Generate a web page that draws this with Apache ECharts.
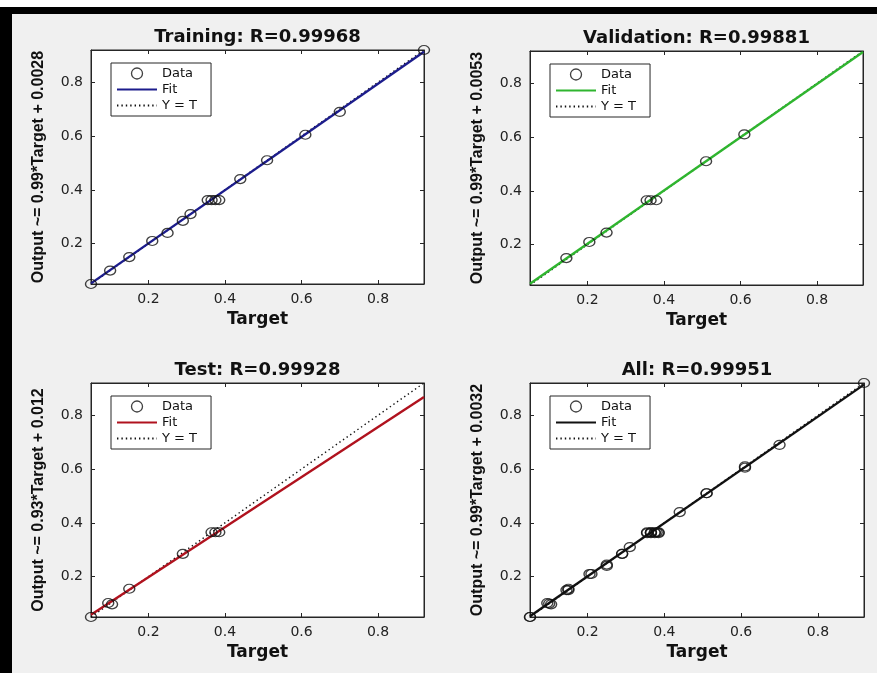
<!DOCTYPE html>
<html>
<head>
<meta charset="utf-8">
<script src="https://cdn.jsdelivr.net/npm/echarts@6/dist/echarts.min.js"></script>
<style>
html,body{margin:0;padding:0;background:#fff;}
#chart{width:877px;height:673px;}
</style>
</head>
<body>
<div id="chart"></div>
<script>
// ---- data ----
const axisMin = 0.05;
const axisMax = 0.92;
const tickValues = [0.2, 0.4, 0.6, 0.8];
const tickLabels = ['0.2', '0.4', '0.6', '0.8'];

const panelTitles = ['Training: R=0.99968', 'Validation: R=0.99881', 'Test: R=0.99928', 'All: R=0.99951'];
const yAxisNames = ['Output ~= 0.99*Target + 0.0028', 'Output ~= 0.99*Target + 0.0053',
                    'Output ~= 0.93*Target + 0.012', 'Output ~= 0.99*Target + 0.0032'];
const legendNames = ['Data', 'Fit', 'Y = T'];

const trainTarget = [0.05, 0.10, 0.15, 0.21, 0.25, 0.29, 0.31, 0.355, 0.365, 0.375, 0.385, 0.44, 0.51, 0.61, 0.70, 0.92];
const trainOutput = [0.05, 0.10, 0.15, 0.21, 0.24, 0.285, 0.31, 0.362, 0.362, 0.362, 0.362, 0.44, 0.51, 0.605, 0.69, 0.92];

const valTarget = [0.145, 0.205, 0.25, 0.355, 0.365, 0.38, 0.51, 0.61];
const valOutput = [0.15, 0.21, 0.245, 0.365, 0.365, 0.365, 0.51, 0.61];

const testTarget = [0.05, 0.095, 0.105, 0.15, 0.29, 0.365, 0.375, 0.385];
const testOutput = [0.05, 0.102, 0.097, 0.155, 0.285, 0.365, 0.365, 0.365];

const allTarget = trainTarget.concat(valTarget, testTarget);
const allOutput = trainOutput.concat(valOutput, testOutput);

// fit lines: output values at target = axisMin and axisMax
const fitEndsX = [0.05, 0.92];
const trainFitY = [0.0523, 0.9136];
const valFitY = [0.0548, 0.9161];
const testFitY = [0.0585, 0.8676];
const allFitY = [0.0527, 0.9140];
const identityY = [0.05, 0.92];

const fitColors = ['#1c1c8c', '#2fb52f', '#b0121e', '#111111'];

// ---- layout ----
const panels = [
  {left: 91, top: 50, width: 333, height: 234, tx: trainTarget, ty: trainOutput, fy: trainFitY},
  {left: 530, top: 51, width: 333, height: 234, tx: valTarget, ty: valOutput, fy: valFitY},
  {left: 91, top: 383, width: 333, height: 234, tx: testTarget, ty: testOutput, fy: testFitY},
  {left: 530, top: 383, width: 334, height: 234, tx: allTarget, ty: allOutput, fy: allFitY}
];

const axisColor = '#262626';
const grid = [], xAxis = [], yAxis = [], series = [], title = [], legend = [];

panels.forEach((p, i) => {
  const sfx = ' '.repeat(i);
  grid.push({left: p.left, top: p.top, width: p.width, height: p.height,
    show: true, backgroundColor: '#ffffff', borderColor: axisColor, borderWidth: 1});
  const tickStyle = {inside: true, length: 4, customValues: tickValues, lineStyle: {color: axisColor}};
  const labelFmt = v => { const k = tickValues.findIndex(t => Math.abs(t - v) < 1e-9); return k >= 0 ? tickLabels[k] : ''; };
  xAxis.push({type: 'value', gridIndex: i, min: axisMin, max: axisMax, position: 'bottom',
    axisLine: {show: true, onZero: false, lineStyle: {color: axisColor}},
    axisTick: tickStyle,
    axisLabel: {customValues: tickValues, formatter: labelFmt, margin: 8, fontSize: 14, fontFamily: 'DejaVu Sans', color: '#222'},
    splitLine: {show: false},
    name: 'Target', nameLocation: 'middle', nameGap: 27,
    nameTextStyle: {fontWeight: 'bold', fontSize: 17, fontFamily: 'DejaVu Sans', color: '#111'}});
  xAxis.push({type: 'value', gridIndex: i, min: axisMin, max: axisMax, position: 'top',
    axisLine: {show: true, onZero: false, lineStyle: {color: axisColor}},
    axisTick: tickStyle, axisLabel: {show: false}, splitLine: {show: false}});
  yAxis.push({type: 'value', gridIndex: i, min: axisMin, max: axisMax, position: 'left',
    axisLine: {show: true, onZero: false, lineStyle: {color: axisColor}},
    axisTick: tickStyle,
    axisLabel: {customValues: tickValues, formatter: labelFmt, margin: 8, fontSize: 14, fontFamily: 'DejaVu Sans', color: '#222'},
    splitLine: {show: false},
    name: yAxisNames[i], nameLocation: 'middle', nameGap: 44,
    nameTextStyle: {fontWeight: 'bold', fontSize: 16, fontFamily: 'Liberation Sans', color: '#111'}});
  yAxis.push({type: 'value', gridIndex: i, min: axisMin, max: axisMax, position: 'right',
    axisLine: {show: true, onZero: false, lineStyle: {color: axisColor}},
    axisTick: tickStyle, axisLabel: {show: false}, splitLine: {show: false}});

  const xi = 2 * i, yi = 2 * i;
  series.push({type: 'line', name: legendNames[2] + sfx, xAxisIndex: xi, yAxisIndex: yi,
    data: fitEndsX.map((x, k) => [x, identityY[k]]), symbol: 'none', silent: true, z: 3,
    lineStyle: {color: '#111', width: 1.4, type: [1.4, 3]}, itemStyle: {color: '#111'}});
  series.push({type: 'line', name: legendNames[1] + sfx, xAxisIndex: xi, yAxisIndex: yi,
    data: fitEndsX.map((x, k) => [x, p.fy[k]]), symbol: 'none', silent: true, z: 4,
    lineStyle: {color: fitColors[i], width: 2.4}, itemStyle: {color: fitColors[i]}});
  series.push({type: 'scatter', name: legendNames[0] + sfx, xAxisIndex: xi, yAxisIndex: yi,
    data: p.tx.map((x, k) => [x, p.ty[k]]), symbol: 'circle', symbolSize: [11, 9], z: 5, silent: true,
    itemStyle: {color: 'rgba(255,255,255,0)', borderColor: '#111', borderWidth: 1.3}});

  title.push({text: panelTitles[i], left: p.left + p.width / 2, textAlign: 'center', top: p.top - 22, padding: 0,
    textStyle: {fontSize: 18, fontWeight: 'bold', fontFamily: 'DejaVu Sans', color: '#111'}});

  legend.push({left: p.left + 20, top: p.top + 13, orient: 'vertical',
    data: [
      {name: legendNames[0] + sfx, icon: 'circle', itemStyle: {color: 'rgba(255,255,255,0)', borderColor: '#111', borderWidth: 1.3}},
      {name: legendNames[1] + sfx, itemStyle: {opacity: 0}},
      {name: legendNames[2] + sfx, itemStyle: {opacity: 0}}
    ],
    backgroundColor: '#ffffff', borderColor: axisColor, borderWidth: 1, borderRadius: 0,
    padding: [4, 14, 4, 5], itemGap: 3, itemWidth: 40, itemHeight: 11, selectedMode: false,
    formatter: n => n.trim(),
    textStyle: {fontSize: 13, fontFamily: 'DejaVu Sans', color: '#111'}});
});

const option = {
  backgroundColor: '#f0f0f0',
  animation: false,
  title, legend, grid, xAxis, yAxis, series,
  graphic: [
    {type: 'rect', shape: {x: 0, y: 0, width: 877, height: 7}, style: {fill: '#ffffff'}, silent: true},
    {type: 'rect', shape: {x: 0, y: 7, width: 877, height: 7}, style: {fill: '#000000'}, silent: true},
    {type: 'rect', shape: {x: 0, y: 7, width: 12, height: 666}, style: {fill: '#000000'}, silent: true}
  ]
};

const chart = echarts.init(document.getElementById('chart'));
chart.setOption(option);
</script>
</body>
</html>
